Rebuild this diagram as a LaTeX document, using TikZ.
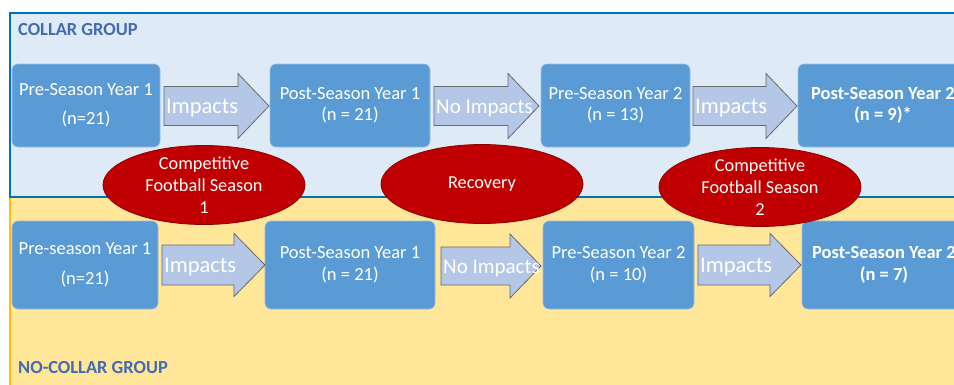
\documentclass[tikz,border=0pt]{standalone}
\usepackage{fontspec}
\setmainfont{Carlito}
\usetikzlibrary{shapes.geometric}
\definecolor{boxblue}{RGB}{91,155,213}
\definecolor{boxedge}{RGB}{150,190,228}
\definecolor{panelblue}{RGB}{222,235,247}
\definecolor{borderblue}{RGB}{0,112,192}
\definecolor{panelyellow}{RGB}{255,230,153}
\definecolor{borderyellow}{RGB}{255,192,0}
\definecolor{arrowfill}{RGB}{180,199,231}
\definecolor{arrowdraw}{RGB}{105,105,105}
\definecolor{ellred}{RGB}{192,0,0}
\definecolor{ellborder}{RGB}{140,0,0}
\definecolor{grouptext}{RGB}{68,106,178}
\newcommand\myblockarrow[7]{%
  \draw[arrowshape] ({#2},{#4-#5}) -- ({#3-31},{#4-#5}) -- ({#3-31},{#4-#6}) -- ({#3},{#4})
    -- ({#3-31},{#4+#6}) -- ({#3-31},{#4+#5}) -- ({#2},{#4+#5}) -- cycle;
  \node[arrowtext] (#1) at ({#2+2},{#4+7.5}) {#7};}
\begin{document}
\begin{tikzpicture}[x=1pt,y=-1pt,
  stagebox/.style={draw=boxedge, line width=0.6pt, fill=boxblue, rounded corners=6pt,
    text=white, align=center, inner sep=0pt,
    font=\fontsize{18.5}{21.5}\selectfont},
  arrowshape/.style={draw=arrowdraw, line width=0.8pt, fill=arrowfill},
  arrowtext/.style={anchor=base west, inner sep=0pt, text=white, font=\fontsize{22.5}{25}\selectfont},
  ell/.style={ellipse, draw=ellborder, line width=0.8pt, fill=ellred, inner sep=0pt,
    minimum width=202pt, minimum height=79pt},
  elltext/.style={text=white, align=center, inner sep=0pt, font=\fontsize{18.3}{22}\selectfont},
  grouplabel/.style={anchor=base west, inner sep=0pt, text=grouptext, font=\bfseries\fontsize{18.4}{21}\selectfont}]
\useasboundingbox (0,0) rectangle (954,384);
\clip (0,0) rectangle (954,384);
% panels
\fill[white] (0,0) rectangle (954,384);
\fill[panelyellow] (10,197) rectangle (980,390);
\draw[borderyellow, line width=2.5pt] (10,197) -- (10,390);
\draw[borderblue, line width=2pt, fill=panelblue] (10,13) rectangle (980,197);
\node[grouplabel] (collar) at (18,35) {COLLAR GROUP};
\node[grouplabel] (nocollar) at (18,373) {NO-COLLAR GROUP};
% top row boxes
\node[stagebox, minimum width=148pt, minimum height=83pt] (t1) at (86,105.5) {Pre-Season Year 1\\[7pt](n=21)};
\node[stagebox, minimum width=160pt, minimum height=83pt] (t2) at (350,105.5) {Post-Season Year 1\\(n = 21)};
\node[stagebox, minimum width=149pt, minimum height=83pt] (t3) at (615.5,105.5) {Pre-Season Year 2\\(n = 13)};
\node[stagebox, minimum width=170pt, minimum height=83pt] (t4) at (883,105.5) {\bfseries Post-Season Year 2\\\bfseries(n = 9)*};
% bottom row boxes
\node[stagebox, minimum width=146pt, minimum height=88pt] (b1) at (85,265) {Pre-season Year 1\\[9pt](n=21)};
\node[stagebox, minimum width=170pt, minimum height=88pt] (b2) at (350,265) {Post-Season Year 1\\(n = 21)};
\node[stagebox, minimum width=151pt, minimum height=88pt] (b3) at (618.5,265) {Pre-Season Year 2\\(n = 10)};
\node[stagebox, minimum width=164pt, minimum height=88pt] (b4) at (884,265) {\bfseries Post-Season Year 2\\\bfseries(n = 7)};
% block arrows
\myblockarrow{ta1}{164}{269}{106}{19.5}{32.5}{Impacts}
\myblockarrow{ta2}{434}{539}{106}{19.5}{32.5}{\fontsize{21}{24}\selectfont No Impacts}
\myblockarrow{ta3}{693}{797}{106}{19.5}{32.5}{Impacts}
\myblockarrow{ba1}{162}{265}{265}{20}{31.5}{Impacts}
\myblockarrow{ba2}{441}{541}{266}{19}{32}{\fontsize{21}{24}\selectfont No Impacts}
\myblockarrow{ba3}{698}{801}{265}{20}{31.5}{Impacts}
% ellipses
\node[ell] (e1) at (204,185) {};
\node[elltext] (e1t) at (e1) {Competitive\\Football Season\\1};
\node[ell] (e2) at (482,184) {};
\node[elltext] (e2t) at (e2) {Recovery};
\node[ell] (e3) at (760,187) {};
\node[elltext] (e3t) at (e3) {Competitive\\Football Season\\2};
\end{tikzpicture}
\end{document}
